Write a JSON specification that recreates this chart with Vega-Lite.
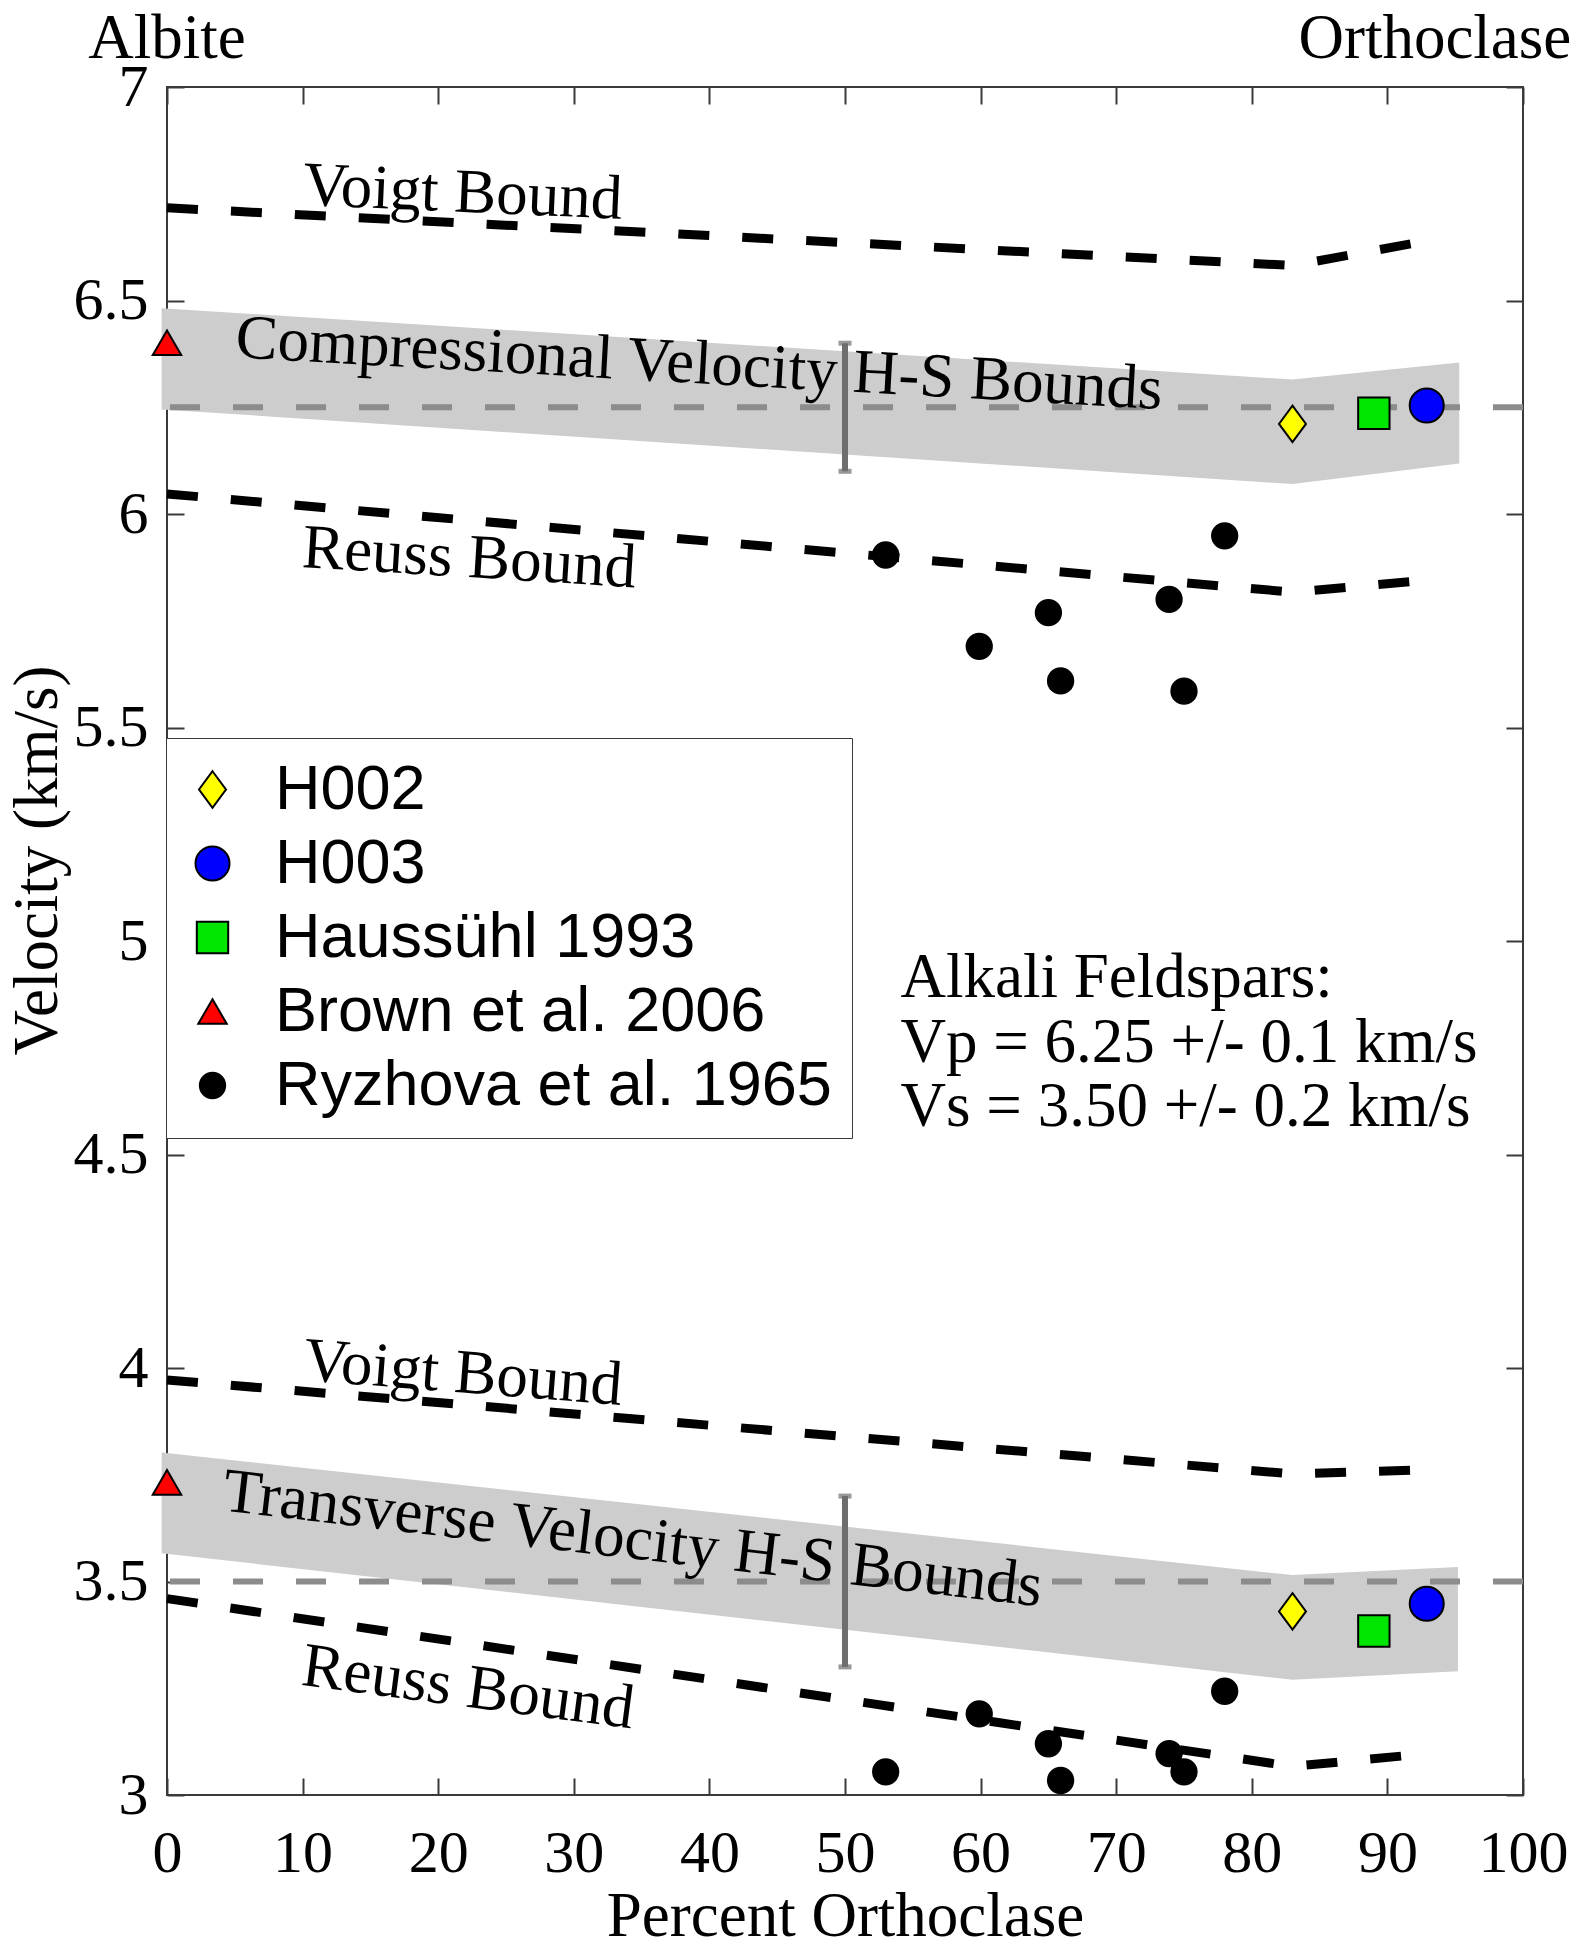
{
  "$schema": "https://vega.github.io/schema/vega-lite/v6.json",
  "width": 1356,
  "height": 1708,
  "autosize": {"type": "none"},
  "padding": {"left": 167, "top": 87, "right": 63, "bottom": 147},
  "background": "white",
  "config": {
    "font": "Liberation Serif",
    "view": {"stroke": "#3a3a3a", "strokeWidth": 2},
    "axis": {"domain": false, "grid": false, "tickColor": "#3a3a3a", "tickWidth": 2, "labelFont": "Liberation Serif", "titleFont": "Liberation Serif"},
    "style": {"guide-label": {"font": "Liberation Serif"}, "guide-title": {"font": "Liberation Serif"}},
    "text": {"font": "Liberation Serif"}
  },
  "datasets": {
    "bands": [
      {"band": "Vp", "x": -0.4, "hi": 6.482, "lo": 6.245},
      {"band": "Vp", "x": 83, "hi": 6.315, "lo": 6.07},
      {"band": "Vp", "x": 95.3, "hi": 6.355, "lo": 6.118},
      {"band": "Vs", "x": -0.4, "hi": 3.802, "lo": 3.566},
      {"band": "Vs", "x": 83, "hi": 3.515, "lo": 3.27},
      {"band": "Vs", "x": 95.2, "hi": 3.534, "lo": 3.29}
    ],
    "refs": [{"y": 6.25}, {"y": 3.5}],
    "bounds": [
      {"line": "Vp Voigt", "x": 0, "y": 6.717},
      {"line": "Vp Voigt", "x": 83, "y": 6.582},
      {"line": "Vp Voigt", "x": 93, "y": 6.64},
      {"line": "Vp Reuss", "x": 0, "y": 6.047},
      {"line": "Vp Reuss", "x": 83, "y": 5.817},
      {"line": "Vp Reuss", "x": 93, "y": 5.845},
      {"line": "Vs Voigt", "x": 0, "y": 3.972},
      {"line": "Vs Voigt", "x": 83, "y": 3.752},
      {"line": "Vs Voigt", "x": 93, "y": 3.762},
      {"line": "Vs Reuss", "x": 0, "y": 3.46},
      {"line": "Vs Reuss", "x": 83, "y": 3.067},
      {"line": "Vs Reuss", "x": 93, "y": 3.097}
    ],
    "errs": [
      {"x": 50, "lo": 6.1, "hi": 6.4},
      {"x": 50, "lo": 3.3, "hi": 3.7}
    ],
    "labels": [
      {"id": "pv", "text": "Voigt Bound", "x": 10.0, "y": 6.724},
      {"id": "pr", "text": "Reuss Bound", "x": 9.9, "y": 5.876},
      {"id": "pc", "text": "Compressional Velocity H-S Bounds", "x": 5.0, "y": 6.367},
      {"id": "sv", "text": "Voigt Bound", "x": 10.0, "y": 3.972},
      {"id": "sr", "text": "Reuss Bound", "x": 9.8, "y": 3.258},
      {"id": "st", "text": "Transverse Velocity H-S Bounds", "x": 4.0, "y": 3.667}
    ],
    "ends": [
      {"text": "Albite", "x": 0, "y": 7.068},
      {"text": "Orthoclase", "x": 93.5, "y": 7.068}
    ],
    "notes": [
      {"text": "Alkali Feldspars:", "x": 54.1, "y": 4.87},
      {"text": "Vp = 6.25 +/- 0.1 km/s", "x": 54.1, "y": 4.717},
      {"text": "Vs = 3.50 +/- 0.2 km/s", "x": 54.1, "y": 4.566}
    ],
    "points": [
      {"series": "H002", "x": 83, "y": 6.211},
      {"series": "H002", "x": 83, "y": 3.43},
      {"series": "H003", "x": 92.9, "y": 6.254},
      {"series": "H003", "x": 92.9, "y": 3.448},
      {"series": "Haussühl 1993", "x": 89, "y": 6.236},
      {"series": "Haussühl 1993", "x": 89, "y": 3.384},
      {"series": "Brown et al. 2006", "x": 0, "y": 6.401},
      {"series": "Brown et al. 2006", "x": 0, "y": 3.732},
      {"series": "Ryzhova et al. 1965", "x": 53, "y": 5.904},
      {"series": "Ryzhova et al. 1965", "x": 59.9, "y": 5.69},
      {"series": "Ryzhova et al. 1965", "x": 65, "y": 5.769},
      {"series": "Ryzhova et al. 1965", "x": 65.9, "y": 5.609},
      {"series": "Ryzhova et al. 1965", "x": 73.9, "y": 5.8},
      {"series": "Ryzhova et al. 1965", "x": 75, "y": 5.585},
      {"series": "Ryzhova et al. 1965", "x": 78, "y": 5.949},
      {"series": "Ryzhova et al. 1965", "x": 53, "y": 3.054},
      {"series": "Ryzhova et al. 1965", "x": 59.9, "y": 3.19},
      {"series": "Ryzhova et al. 1965", "x": 65, "y": 3.12},
      {"series": "Ryzhova et al. 1965", "x": 65.9, "y": 3.034},
      {"series": "Ryzhova et al. 1965", "x": 73.9, "y": 3.097},
      {"series": "Ryzhova et al. 1965", "x": 75, "y": 3.054},
      {"series": "Ryzhova et al. 1965", "x": 78, "y": 3.243}
    ]
  },
  "layer": [
    {
      "data": {"name": "bands"},
      "mark": {"type": "area", "color": "#cdcdcd", "opacity": 1},
      "encoding": {
        "x": {
          "field": "x", "type": "quantitative",
          "scale": {"domain": [0, 100], "nice": false, "zero": false},
          "axis": {
            "orient": "bottom",
            "values": [0, 10, 20, 30, 40, 50, 60, 70, 80, 90, 100],
            "tickSize": -17,
            "labelFont": "Liberation Serif", "labelFontSize": 60, "labelColor": "black",
            "labelBaseline": "alphabetic", "labelPadding": 93,
            "labelFlush": false, "labelOverlap": false, "labelBound": false,
            "title": "Percent Orthoclase",
            "titleFont": "Liberation Serif", "titleFontSize": 63, "titleFontWeight": "normal", "titleColor": "black",
            "titleY": 140, "titleBaseline": "alphabetic",
            "encode": {"labels": {"update": {"font": {"value": "Liberation Serif"}}}}
          }
        },
        "y": {
          "field": "hi", "type": "quantitative",
          "scale": {"domain": [3, 7], "nice": false, "zero": false},
          "axis": {
            "orient": "left",
            "values": [3, 3.5, 4, 4.5, 5, 5.5, 6, 6.5, 7],
            "format": "~g",
            "tickSize": -17,
            "labelFont": "Liberation Serif", "labelFontSize": 60, "labelColor": "black",
            "labelPadding": 36, "labelOverlap": false, "labelBound": false, "labelFlush": false,
            "title": "Velocity (km/s)",
            "titleFont": "Liberation Serif", "titleFontSize": 63, "titleFontWeight": "normal", "titleColor": "black",
            "titleX": -130, "titleY": 773, "titleAlign": "center", "titleBaseline": "middle", "titleAngle": 270,
            "encode": {"labels": {"update": {"font": {"value": "Liberation Serif"}}}}
          }
        },
        "y2": {"field": "lo"},
        "detail": {"field": "band"}
      }
    },
    {
      "data": {"name": "refs"},
      "mark": {"type": "rule", "color": "#8c8c8c", "strokeWidth": 6, "strokeDash": [30, 33]},
      "encoding": {
        "y": {"field": "y", "type": "quantitative", "scale": {"domain": [3, 7], "nice": false, "zero": false}, "axis": null}
      }
    },
    {
      "data": {"name": "bounds"},
      "mark": {"type": "line", "color": "black", "strokeWidth": 9, "strokeDash": [31, 33]},
      "encoding": {
        "x": {
          "field": "x", "type": "quantitative",
          "scale": {"domain": [0, 100], "nice": false, "zero": false},
          "axis": {"orient": "top", "values": [0, 10, 20, 30, 40, 50, 60, 70, 80, 90, 100], "tickSize": -17, "labels": false, "title": null}
        },
        "y": {
          "field": "y", "type": "quantitative",
          "scale": {"domain": [3, 7], "nice": false, "zero": false},
          "axis": {"orient": "right", "values": [3, 3.5, 4, 4.5, 5, 5.5, 6, 6.5, 7], "tickSize": -17, "labels": false, "title": null}
        },
        "detail": {"field": "line"}
      }
    },
    {
      "data": {"name": "errs"},
      "mark": {"type": "rule", "color": "#6e6e6e", "strokeWidth": 6},
      "encoding": {
        "x": {"field": "x", "type": "quantitative", "scale": {"domain": [0, 100], "nice": false, "zero": false}, "axis": null},
        "y": {"field": "lo", "type": "quantitative", "scale": {"domain": [3, 7], "nice": false, "zero": false}, "axis": null},
        "y2": {"field": "hi"}
      }
    },
    {
      "data": {"name": "errs"},
      "mark": {"type": "tick", "orient": "horizontal", "color": "#6e6e6e", "size": 13, "thickness": 5},
      "encoding": {
        "x": {"field": "x", "type": "quantitative", "scale": {"domain": [0, 100], "nice": false, "zero": false}, "axis": null},
        "y": {"field": "lo", "type": "quantitative", "scale": {"domain": [3, 7], "nice": false, "zero": false}, "axis": null}
      }
    },
    {
      "data": {"name": "errs"},
      "mark": {"type": "tick", "orient": "horizontal", "color": "#6e6e6e", "size": 13, "thickness": 5},
      "encoding": {
        "x": {"field": "x", "type": "quantitative", "scale": {"domain": [0, 100], "nice": false, "zero": false}, "axis": null},
        "y": {"field": "hi", "type": "quantitative", "scale": {"domain": [3, 7], "nice": false, "zero": false}, "axis": null}
      }
    },
    {
      "data": {"name": "labels"},
      "transform": [{"filter": "datum.id === 'pv'"}],
      "mark": {"type": "text", "font": "Liberation Serif", "fontSize": 63, "color": "black", "align": "left", "baseline": "alphabetic", "angle": 2.5},
      "encoding": {
        "x": {"field": "x", "type": "quantitative", "scale": {"domain": [0, 100], "nice": false, "zero": false}, "axis": null},
        "y": {"field": "y", "type": "quantitative", "scale": {"domain": [3, 7], "nice": false, "zero": false}, "axis": null},
        "text": {"field": "text"}
      }
    },
    {
      "data": {"name": "labels"},
      "transform": [{"filter": "datum.id === 'pr'"}],
      "mark": {"type": "text", "font": "Liberation Serif", "fontSize": 63, "color": "black", "align": "left", "baseline": "alphabetic", "angle": 3.5},
      "encoding": {
        "x": {"field": "x", "type": "quantitative", "scale": {"domain": [0, 100], "nice": false, "zero": false}, "axis": null},
        "y": {"field": "y", "type": "quantitative", "scale": {"domain": [3, 7], "nice": false, "zero": false}, "axis": null},
        "text": {"field": "text"}
      }
    },
    {
      "data": {"name": "labels"},
      "transform": [{"filter": "datum.id === 'pc'"}],
      "mark": {"type": "text", "font": "Liberation Serif", "fontSize": 63, "color": "black", "align": "left", "baseline": "alphabetic", "angle": 3.2},
      "encoding": {
        "x": {"field": "x", "type": "quantitative", "scale": {"domain": [0, 100], "nice": false, "zero": false}, "axis": null},
        "y": {"field": "y", "type": "quantitative", "scale": {"domain": [3, 7], "nice": false, "zero": false}, "axis": null},
        "text": {"field": "text"}
      }
    },
    {
      "data": {"name": "labels"},
      "transform": [{"filter": "datum.id === 'sv'"}],
      "mark": {"type": "text", "font": "Liberation Serif", "fontSize": 63, "color": "black", "align": "left", "baseline": "alphabetic", "angle": 4.5},
      "encoding": {
        "x": {"field": "x", "type": "quantitative", "scale": {"domain": [0, 100], "nice": false, "zero": false}, "axis": null},
        "y": {"field": "y", "type": "quantitative", "scale": {"domain": [3, 7], "nice": false, "zero": false}, "axis": null},
        "text": {"field": "text"}
      }
    },
    {
      "data": {"name": "labels"},
      "transform": [{"filter": "datum.id === 'sr'"}],
      "mark": {"type": "text", "font": "Liberation Serif", "fontSize": 63, "color": "black", "align": "left", "baseline": "alphabetic", "angle": 7.5},
      "encoding": {
        "x": {"field": "x", "type": "quantitative", "scale": {"domain": [0, 100], "nice": false, "zero": false}, "axis": null},
        "y": {"field": "y", "type": "quantitative", "scale": {"domain": [3, 7], "nice": false, "zero": false}, "axis": null},
        "text": {"field": "text"}
      }
    },
    {
      "data": {"name": "labels"},
      "transform": [{"filter": "datum.id === 'st'"}],
      "mark": {"type": "text", "font": "Liberation Serif", "fontSize": 63, "color": "black", "align": "left", "baseline": "alphabetic", "angle": 6.7},
      "encoding": {
        "x": {"field": "x", "type": "quantitative", "scale": {"domain": [0, 100], "nice": false, "zero": false}, "axis": null},
        "y": {"field": "y", "type": "quantitative", "scale": {"domain": [3, 7], "nice": false, "zero": false}, "axis": null},
        "text": {"field": "text"}
      }
    },
    {
      "data": {"name": "ends"},
      "mark": {"type": "text", "font": "Liberation Serif", "fontSize": 63, "color": "black", "align": "center", "baseline": "alphabetic"},
      "encoding": {
        "x": {"field": "x", "type": "quantitative", "scale": {"domain": [0, 100], "nice": false, "zero": false}, "axis": null},
        "y": {"field": "y", "type": "quantitative", "scale": {"domain": [3, 7], "nice": false, "zero": false}, "axis": null},
        "text": {"field": "text"}
      }
    },
    {
      "data": {"name": "notes"},
      "mark": {"type": "text", "font": "Liberation Serif", "fontSize": 63, "color": "black", "align": "left", "baseline": "alphabetic"},
      "encoding": {
        "x": {"field": "x", "type": "quantitative", "scale": {"domain": [0, 100], "nice": false, "zero": false}, "axis": null},
        "y": {"field": "y", "type": "quantitative", "scale": {"domain": [3, 7], "nice": false, "zero": false}, "axis": null},
        "text": {"field": "text"}
      }
    },
    {
      "data": {"name": "points"},
      "mark": {"type": "point", "filled": true, "stroke": "black", "strokeWidth": 2, "opacity": 1},
      "encoding": {
        "x": {"field": "x", "type": "quantitative", "scale": {"domain": [0, 100], "nice": false, "zero": false}, "axis": null},
        "y": {"field": "y", "type": "quantitative", "scale": {"domain": [3, 7], "nice": false, "zero": false}, "axis": null},
        "color": {
          "field": "series", "type": "nominal",
          "scale": {
            "domain": ["H002", "H003", "Haussühl 1993", "Brown et al. 2006", "Ryzhova et al. 1965"],
            "range": ["#ffff00", "#0000ff", "#00e600", "#ff0000", "#000000"]
          },
          "legend": {
            "title": null,
            "orient": "none",
            "legendX": -1,
            "legendY": 651,
            "padding": 20,
            "symbolOffset": -5,
            "labelOffset": 31,
            "rowPadding": 10,
            "labelFont": "Liberation Sans",
            "labelFontSize": 63,
            "labelColor": "black",
            "labelLimit": 0,
            "symbolStrokeColor": "black",
            "symbolStrokeWidth": 2,
            "fillColor": "white",
            "strokeColor": "#3a3a3a",
            "encode": {
              "legend": {"update": {"strokeWidth": {"value": 2}}},
              "symbols": {"update": {"size": {"scale": "size", "field": "value", "mult": 1.8}}}
            }
          }
        },
        "shape": {
          "field": "series", "type": "nominal",
          "scale": {
            "domain": ["H002", "H003", "Haussühl 1993", "Brown et al. 2006", "Ryzhova et al. 1965"],
            "range": ["M0,-1L0.74,0L0,1L-0.74,0Z", "circle", "square", "triangle-up", "circle"]
          }
        },
        "size": {
          "field": "series", "type": "nominal",
          "scale": {
            "domain": ["H002", "H003", "Haussühl 1993", "Brown et al. 2006", "Ryzhova et al. 1965"],
            "range": [1330, 640, 410, 980, 240]
          }
        }
      }
    }
  ],
  "resolve": {"axis": {"x": "independent", "y": "independent"}}
}
